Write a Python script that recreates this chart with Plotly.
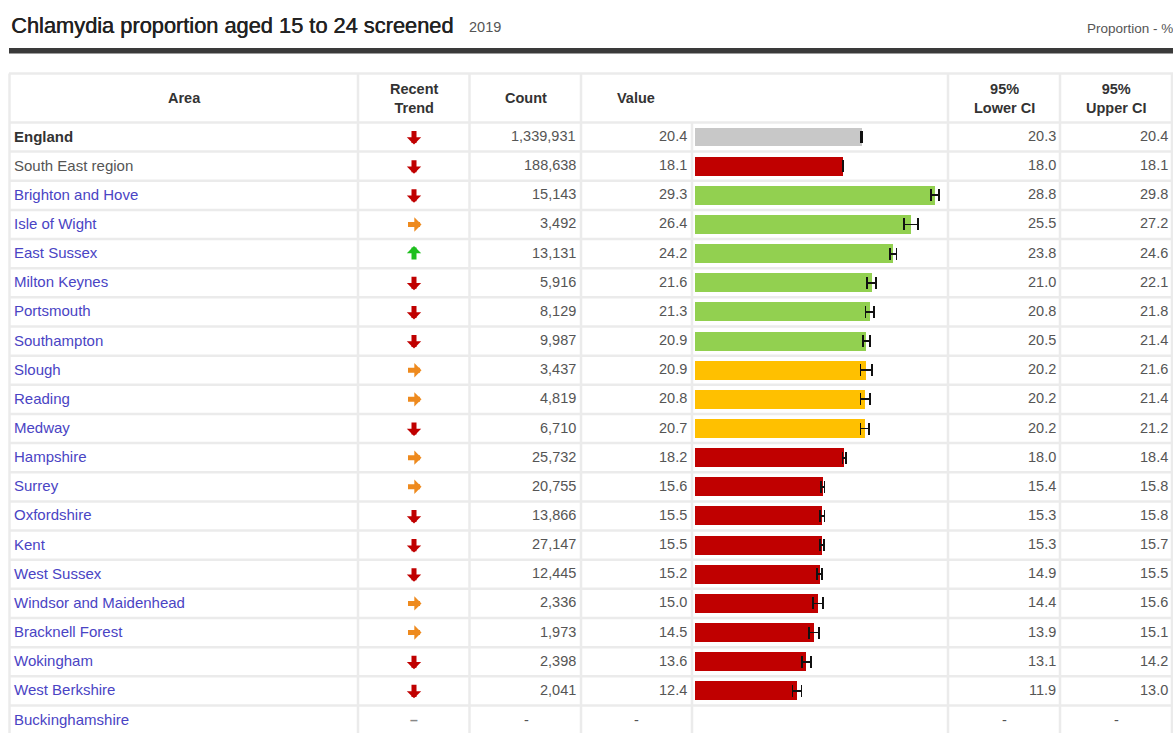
import plotly.graph_objects as go

W, H = 1173, 733
ROW0, ROWH = 137.0, 29.15   # pixel centre of first row, row pitch

areas = ["England", "South East region", "Brighton and Hove", "Isle of Wight", "East Sussex",
         "Milton Keynes", "Portsmouth", "Southampton", "Slough", "Reading", "Medway",
         "Hampshire", "Surrey", "Oxfordshire", "Kent", "West Sussex", "Windsor and Maidenhead",
         "Bracknell Forest", "Wokingham", "West Berkshire", "Buckinghamshire"]
trends = ["down", "down", "down", "right", "up", "down", "down", "down", "right", "right", "down",
          "right", "right", "down", "down", "down", "right", "right", "down", "down", "none"]
counts = [1339931, 188638, 15143, 3492, 13131, 5916, 8129, 9987, 3437, 4819, 6710,
          25732, 20755, 13866, 27147, 12445, 2336, 1973, 2398, 2041, None]
values = [20.4, 18.1, 29.3, 26.4, 24.2, 21.6, 21.3, 20.9, 20.9, 20.8, 20.7,
          18.2, 15.6, 15.5, 15.5, 15.2, 15.0, 14.5, 13.6, 12.4, None]
lower_ci = [20.3, 18.0, 28.8, 25.5, 23.8, 21.0, 20.8, 20.5, 20.2, 20.2, 20.2,
            18.0, 15.4, 15.3, 15.3, 14.9, 14.4, 13.9, 13.1, 11.9, None]
upper_ci = [20.4, 18.1, 29.8, 27.2, 24.6, 22.1, 21.8, 21.4, 21.6, 21.4, 21.2,
            18.4, 15.8, 15.8, 15.7, 15.5, 15.6, 15.1, 14.2, 13.0, None]
comparison = ["benchmark", "worse", "better", "better", "better", "better", "better", "better",
              "similar", "similar", "similar", "worse", "worse", "worse", "worse", "worse",
              "worse", "worse", "worse", "worse", "none"]

color_map = {"benchmark": "#c8c8c8", "worse": "#c00000", "better": "#92d050",
             "similar": "#ffc000", "none": "rgba(0,0,0,0)"}
trend_colors = {"down": "#c00000", "right": "#ee8a1e", "up": "#1fbf1f"}

FONT = "Liberation Sans, Arial, sans-serif"
LINK = "#4a44c4"
NUM = "#555555"
GRID = "#ebebeb"


def px(x):
    return x / W


def py(y):
    return 1 - y / H


def row_at(ypix):
    return (ypix - ROW0) / ROWH


n = len(areas)
err_plus = [None if v is None else round(u - v, 3) for v, u in zip(values, upper_ci)]
err_minus = [None if v is None else round(v - l, 3) for v, l in zip(values, lower_ci)]

fig = go.Figure()
fig.add_trace(go.Bar(
    x=values, y=areas, orientation="h",
    marker=dict(color=[color_map[c] for c in comparison], line=dict(width=0)),
    width=0.65,
    error_x=dict(type="data", symmetric=False, array=err_plus, arrayminus=err_minus,
                 color="#111111", thickness=1.8, width=6),
    hoverinfo="skip",
))

shapes = []
# thick title rule
shapes.append(dict(type="rect", xref="paper", yref="paper", x0=px(9), x1=px(1180),
                   y0=py(48), y1=py(53.5), fillcolor="#3a3a3a", line=dict(width=0), layer="below"))

top_row = row_at(73.5)
bottom_row = row_at(740)
# horizontal grid lines
hlines = [top_row] + [i - 0.5 for i in range(n + 1)]
for yv in hlines:
    shapes.append(dict(type="line", xref="paper", yref="y", x0=px(9), x1=px(1180), y0=yv, y1=yv,
                       line=dict(color=GRID, width=2.5), layer="below"))
# vertical grid lines
for xv in [9.5, 358, 469.5, 581, 948, 1060, 1172]:
    shapes.append(dict(type="line", xref="paper", yref="y", x0=px(xv), x1=px(xv),
                       y0=top_row, y1=bottom_row, line=dict(color=GRID, width=2.5), layer="below"))
shapes.append(dict(type="line", xref="paper", yref="y", x0=px(692), x1=px(692),
                   y0=-0.5, y1=bottom_row, line=dict(color=GRID, width=2.5), layer="below"))

ann = []
# title and labels
ann.append(dict(text="Chlamydia proportion aged 15 to 24 screened", xref="paper", yref="paper",
                x=px(9), y=py(25), xanchor="left", yanchor="middle", showarrow=False,
                font=dict(family=FONT, size=21.8, color="#222222",
                          shadow="0.5px 0px 0px #222222")))
ann.append(dict(text="2019", xref="paper", yref="paper", x=px(467), y=py(27), xanchor="left",
                yanchor="middle", showarrow=False, font=dict(family=FONT, size=14.5, color="#555")))
ann.append(dict(text="Proportion - %", xref="paper", yref="paper", x=px(1175), y=py(29),
                xanchor="right", yanchor="middle", showarrow=False,
                font=dict(family=FONT, size=13.5, color="#555")))

hfont = dict(family=FONT, size=14.5, color="#333")
headers = [("<b>Area</b>", 184), ("<b>Recent</b><br><b>Trend</b>", 414), ("<b>Count</b>", 526),
           ("<b>Value</b>", 636), ("<b>95%</b><br><b>Lower CI</b>", 1004),
           ("<b>95%</b><br><b>Upper CI</b>", 1116)]
for t, xc in headers:
    ann.append(dict(text=t, xref="paper", yref="paper", x=px(xc), y=py(98), xanchor="center",
                    yanchor="middle", showarrow=False, font=hfont, align="center"))


def fmt_count(c):
    return "-" if c is None else f"{c:,}"


def fmt_val(v):
    return "-" if v is None else f"{v:.1f}"


for i, a in enumerate(areas):
    if i == 0:
        nf = dict(family=FONT, size=15, color="#333")
        txt = "<b>" + a + "</b>"
    elif i == 1:
        nf = dict(family=FONT, size=15, color="#555")
        txt = a
    else:
        nf = dict(family=FONT, size=15, color=LINK)
        txt = a
    ann.append(dict(text=txt, xref="paper", yref="y", x=px(12), y=a, xanchor="left",
                    yanchor="middle", showarrow=False, font=nf, yshift=1))
    numf = dict(family=FONT, size=14.5, color=NUM)
    cells = [(fmt_count(counts[i]), 577.5, 526), (fmt_val(values[i]), 689, 636),
             (fmt_val(lower_ci[i]), 1057.5, 1004), (fmt_val(upper_ci[i]), 1169.5, 1116)]
    for t, xr, xc in cells:
        if t == "-":
            ann.append(dict(text=t, xref="paper", yref="y", x=px(xc), y=a, xanchor="center",
                            yanchor="middle", showarrow=False, font=numf))
        else:
            ann.append(dict(text=t, xref="paper", yref="y", x=px(xr), y=a, xanchor="right",
                            yanchor="middle", showarrow=False, font=numf, yshift=1))
    tr = trends[i]
    if tr == "none":
        ann.append(dict(text="<b>–</b>", xref="paper", yref="y", x=px(414), y=a, xanchor="center",
                        yanchor="middle", showarrow=False, font=dict(family=FONT, size=14, color="#888")))
    else:
        d = dict(text="", xref="paper", yref="y", x=px(414), y=a, showarrow=True,
                 arrowhead=1, arrowsize=0.48, arrowwidth=5, arrowcolor=trend_colors[tr],
                 axref="pixel", ayref="pixel")
        if tr == "down":
            d.update(ax=0, ay=-15, yshift=-7.5)
        elif tr == "up":
            d.update(ax=0, ay=15, yshift=7.5)
        else:
            d.update(ax=-15, ay=0, xshift=7.5)
        ann.append(d)

fig.update_layout(
    width=W, height=H,
    margin=dict(l=0, r=0, t=0, b=0),
    paper_bgcolor="white", plot_bgcolor="rgba(0,0,0,0)",
    showlegend=False,
    xaxis=dict(domain=[px(695), px(949)], range=[0, 31], visible=False, fixedrange=True),
    yaxis=dict(type="category", categoryorder="array", categoryarray=areas,
               range=[row_at(H), row_at(0)], domain=[0, 1], visible=False, fixedrange=True),
    shapes=shapes, annotations=ann, bargap=0,
)

fig.write_html("out.html", config={"displayModeBar": False},
               post_script="document.body.style.margin='0';document.body.style.overflow='hidden';")
